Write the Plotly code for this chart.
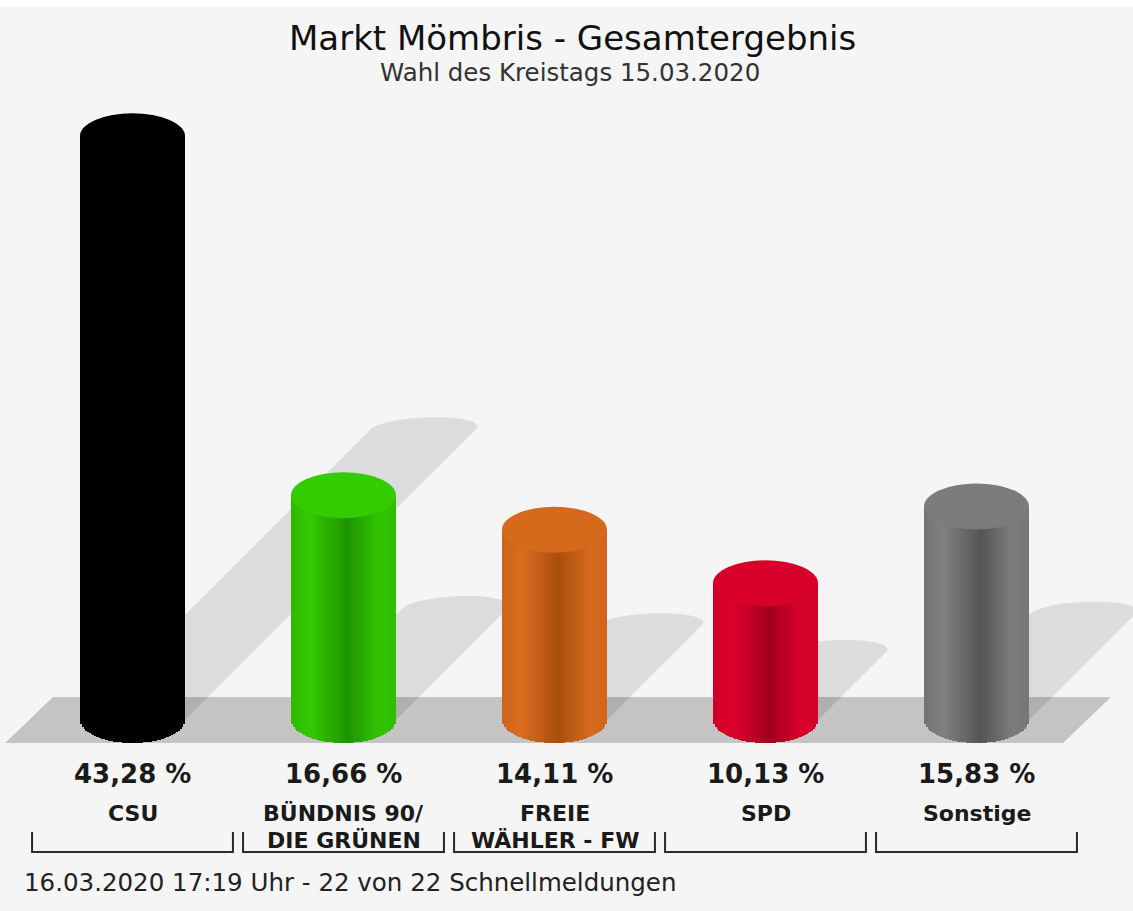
import numpy as np
import plotly.graph_objects as go

# ---------------- data ----------------
parties = ["CSU", "BÜNDNIS 90/<br>DIE GRÜNEN", "FREIE<br>WÄHLER - FW", "SPD", "Sonstige"]
values = [43.28, 16.66, 14.11, 10.13, 15.83]
value_labels = ["43,28 %", "16,66 %", "14,11 %", "10,13 %", "15,83 %"]
light_colors = [(0, 0, 0), (52, 200, 0), (218, 108, 30), (222, 0, 44), (128, 128, 128)]
dark_colors = [(0, 0, 0), (30, 148, 0), (168, 78, 14), (162, 0, 30), (84, 84, 84)]
top_colors = ["#000000", "#33cc00", "#d66a1c", "#d8002b", "#7c7c7c"]
title = "Markt Mömbris - Gesamtergebnis"
subtitle = "Wahl des Kreistags 15.03.2020"
footer = "16.03.2020 17:19 Uhr - 22 von 22 Schnellmeldungen"

# ---------------- layout constants ----------------
W, H = 1133, 911
PX_CAT = 211.0      # pixels per category
X0_PX = 132.5       # pixel x of first category
Y0_PX = 720.0       # pixel y of value 0
PX_PCT = 13.49      # pixels per percent
BG = "#f5f5f5"
FONT = "DejaVu Sans"


def dx(px):
    return px / PX_CAT


def dy(px):
    return px / PX_PCT


def ppy(py):
    return 1 - py / H


def ppx(px):
    return px / W


xr = [-X0_PX / PX_CAT, (W - X0_PX) / PX_CAT]
yr = [-(H - Y0_PX) / PX_PCT, Y0_PX / PX_PCT]

BW = dx(105)        # bar width (category units)
CB = dy(23)         # half height of cap ellipses (value units)
n = len(values)
xs = list(range(n))

fig = go.Figure()

# ---------------- cylinder bodies (shaded strips) ----------------
N = 60
profile_t = [0, 0.18, 0.55, 0.85, 1.0]
profile_v = [0.72, 1.0, 0.0, 0.92, 0.8]
step = BW / N
for j in range(N):
    t = (j + 0.5) / N
    u = 2 * t - 1
    p = float(np.interp(t, profile_t, profile_v))
    cols = []
    for lc, dc in zip(light_colors, dark_colors):
        c = [round(dc[k] + (lc[k] - dc[k]) * p) for k in range(3)]
        cols.append(f"rgb({c[0]},{c[1]},{c[2]})")
    depth = CB * np.sqrt(max(0.0, 1 - u * u))
    if u < 0:
        off = -BW / 2 + j * step
    else:
        off = -BW / 2 + j * step - 0.8 * step
    wid = step * 1.8
    if off < -BW / 2:
        wid -= (-BW / 2 - off)
        off = -BW / 2
    if off + wid > BW / 2:
        wid = BW / 2 - off
    fig.add_trace(go.Bar(
        x=xs, y=[v + depth for v in values], base=[-depth] * n,
        offset=off, width=wid,
        marker=dict(color=cols, line=dict(width=0)),
        hoverinfo="skip", showlegend=False,
    ))

shapes = []

# ---------------- floor ----------------
FL_L, FL_R, FL_SHEAR = -0.604, 4.41, dx(48)
floor_path = (f"M {FL_L},{-CB} L {FL_L + FL_SHEAR},{CB} "
              f"L {FL_R + FL_SHEAR},{CB} L {FL_R},{-CB} Z")
shapes.append(dict(type="path", path=floor_path, xref="x", yref="y",
                   fillcolor="#c4c4c4", line=dict(width=0), layer="below"))

# ---------------- shadows ----------------
SH_PX_PCT = 6.72
SH_A, SH_B = 52.5, 12.0
for i, v in enumerate(values):
    Hs = SH_PX_PCT * v
    pts = [(-SH_A, 0.0), (-SH_A + Hs, Hs)]
    for th in np.linspace(np.pi, 0, 48):
        pts.append((Hs + SH_A * np.cos(th) + SH_B * np.sin(th), Hs + SH_B * np.sin(th)))
    pts.append((SH_A, 0.0))
    path = "M " + " L ".join(f"{i + dx(a):.5f},{dy(b):.5f}" for a, b in pts) + " Z"
    shapes.append(dict(type="path", path=path, xref="x", yref="y",
                       fillcolor="rgba(0,0,0,0.10)", line=dict(width=0), layer="below"))

# ---------------- top caps ----------------
for i, v in enumerate(values):
    shapes.append(dict(type="circle", xref="x", yref="y",
                       x0=i - BW / 2, x1=i + BW / 2, y0=v - CB, y1=v + CB,
                       fillcolor=top_colors[i], line=dict(width=0), layer="above"))

# ---------------- brackets ----------------
BH = 0.476
for i in xs:
    shapes.append(dict(type="path", xref="x", yref="paper",
                       path=(f"M {i - BH},{ppy(832)} L {i - BH},{ppy(852)} "
                             f"L {i + BH},{ppy(852)} L {i + BH},{ppy(832)}"),
                       line=dict(color="#2a2a2a", width=2)))

# top white band
shapes.append(dict(type="rect", xref="paper", yref="paper", x0=0, x1=1,
                   y0=ppy(7), y1=1, fillcolor="white", line=dict(width=0), layer="above"))

# ---------------- texts ----------------
ann = []
ann.append(dict(text=title, x=ppx(572), y=ppy(37.5), xref="paper", yref="paper",
                xanchor="center", yanchor="middle", showarrow=False,
                font=dict(family=FONT, size=34, color="#111111")))
ann.append(dict(text=subtitle, x=ppx(570), y=ppy(72.5), xref="paper", yref="paper",
                xanchor="center", yanchor="middle", showarrow=False,
                font=dict(family=FONT, size=24.5, color="#333333")))
for i, lab in enumerate(value_labels):
    ann.append(dict(text=lab, x=i, y=ppy(774), xref="x", yref="paper",
                    xanchor="center", yanchor="middle", showarrow=False,
                    font=dict(family=FONT, size=26, color="#1a1a1a", weight="bold")))
for i, lab in enumerate(parties):
    for k, line in enumerate(lab.split("<br>")):
        ann.append(dict(text=line, x=i, y=ppy(813 + 27 * k), xref="x", yref="paper",
                        xanchor="center", yanchor="middle", showarrow=False,
                        font=dict(family=FONT, size=22, color="#1a1a1a", weight="bold")))
ann.append(dict(text=footer, x=ppx(22), y=ppy(882.5), xref="paper", yref="paper",
                xanchor="left", yanchor="middle", showarrow=False,
                font=dict(family=FONT, size=24.5, color="#222222")))

fig.update_layout(
    width=W, height=H, autosize=False,
    margin=dict(l=0, r=0, t=0, b=0, pad=0),
    paper_bgcolor=BG, plot_bgcolor="rgba(0,0,0,0)",
    barmode="overlay", bargap=0,
    xaxis=dict(range=xr, visible=False, fixedrange=True),
    yaxis=dict(range=yr, visible=False, fixedrange=True),
    shapes=shapes, annotations=ann, showlegend=False,
)

fig.write_html("out.html", config={"displayModeBar": False},
               post_script="document.body.style.margin='0';document.body.style.overflow='hidden';")
